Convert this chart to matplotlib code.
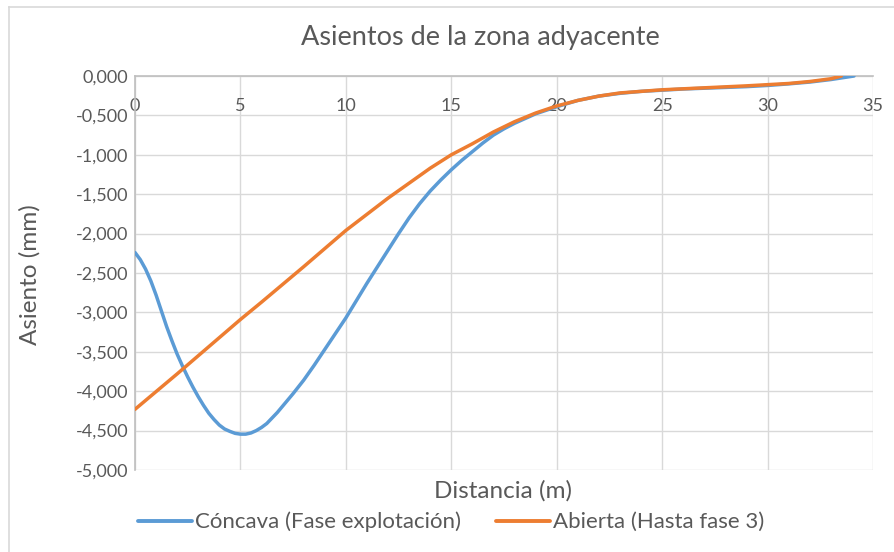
import matplotlib
matplotlib.use("Agg")
import matplotlib.pyplot as plt
from matplotlib.lines import Line2D
from matplotlib.ticker import FuncFormatter

# Settlement profiles next to the excavation (distance in m, settlement in mm)
dist_concava = [0, 0.25, 0.5, 0.75, 1, 1.25, 1.5, 1.75, 2, 2.25, 2.5, 2.75, 3, 3.25,
                3.5, 3.75, 4, 4.25, 4.5, 4.75, 5, 5.25, 5.5, 5.75, 6, 6.25, 6.5, 6.75,
                7, 7.5, 8, 8.5, 9, 9.5, 10, 10.5, 11, 11.5, 12, 12.5, 13, 13.5, 14,
                14.5, 15, 15.5, 16, 16.5, 17, 17.5, 18, 19, 20, 21, 22, 23, 24, 25,
                26, 27, 28, 29, 30, 31, 32, 33, 34.1]
asiento_concava = [-2.24, -2.33, -2.45, -2.60, -2.78, -2.98, -3.18, -3.36, -3.53,
                   -3.68, -3.82, -3.95, -4.07, -4.18, -4.28, -4.36, -4.43, -4.48,
                   -4.51, -4.535, -4.545, -4.545, -4.53, -4.50, -4.46, -4.41, -4.34,
                   -4.27, -4.19, -4.03, -3.86, -3.67, -3.47, -3.27, -3.07, -2.85,
                   -2.63, -2.42, -2.21, -2.00, -1.80, -1.62, -1.46, -1.32, -1.19,
                   -1.07, -0.96, -0.85, -0.75, -0.67, -0.60, -0.48, -0.39, -0.31,
                   -0.255, -0.22, -0.195, -0.18, -0.165, -0.155, -0.145, -0.135,
                   -0.12, -0.10, -0.077, -0.045, 0.0]

dist_abierta = [0, 2, 4, 5, 6, 8, 10, 12, 14, 15, 16, 17, 18, 19, 20, 21, 22, 23,
                25, 27, 29, 30, 31, 32, 33, 33.5]
asiento_abierta = [-4.23, -3.78, -3.32, -3.09, -2.87, -2.42, -1.96, -1.55, -1.17,
                   -1.00, -0.86, -0.71, -0.58, -0.47, -0.38, -0.31, -0.255, -0.215,
                   -0.175, -0.15, -0.125, -0.11, -0.095, -0.07, -0.035, 0.0]

serie_labels = ["Cóncava (Fase explotación)", "Abierta (Hasta fase 3)"]
x_ticks = [0, 5, 10, 15, 20, 25, 30, 35]
y_ticks = [0, -0.5, -1, -1.5, -2, -2.5, -3, -3.5, -4, -4.5, -5]

plt.rcParams["font.family"] = ["Lato", "DejaVu Sans"]
TEXT = "#595959"
GRID = "#D9D9D9"
AXIS = "#BFBFBF"

fig = plt.figure(figsize=(8.94, 5.52), dpi=100)
ax = fig.add_axes([135 / 894, 1 - 470 / 552, (873 - 135) / 894, (470 - 76) / 552])

ax.plot(dist_concava, asiento_concava, color="#5B9BD5", lw=2.5,
        solid_capstyle="round", solid_joinstyle="round", label=serie_labels[0], zorder=3)
ax.plot(dist_abierta, asiento_abierta, color="#ED7D31", lw=2.5,
        solid_capstyle="round", solid_joinstyle="round", label=serie_labels[1], zorder=4)

ax.set_xlim(0, 35)
ax.set_ylim(-5, 0)
ax.set_xticks(x_ticks)
ax.set_yticks(y_ticks)
ax.yaxis.set_major_formatter(
    FuncFormatter(lambda v, p: f"{v:.3f}".replace(".", ",").replace("-0,000", "0,000")))

ax.grid(True, color=GRID, lw=1.0, zorder=0)
ax.set_axisbelow(True)

for s in ("top", "right"):
    ax.spines[s].set_visible(False)
ax.spines["bottom"].set_position(("data", 0))
for s in ("bottom", "left"):
    ax.spines[s].set_color(AXIS)
    ax.spines[s].set_linewidth(1.2)

ax.tick_params(axis="x", length=0, pad=16, labelsize=13, labelcolor=TEXT)
ax.tick_params(axis="y", length=0, pad=5, labelsize=13, labelcolor=TEXT)

fig.text(480 / 894, 1 - 38 / 552, "Asientos de la zona adyacente", ha="center",
         va="center", fontsize=19.5, color=TEXT)

fig.text(30 / 894, 1 - 275 / 552, "Asiento (mm)", ha="center", va="center",
         rotation=90, fontsize=17.5, color=TEXT)
fig.text(503 / 894, 1 - 491 / 552, "Distancia (m)", ha="center", va="center",
         fontsize=17.5, color=TEXT)

leg = fig.legend(loc="center", bbox_to_anchor=(451 / 894, 1 - 522 / 552), ncol=2,
                 frameon=False, fontsize=16, handlelength=2.45, handletextpad=0.12,
                 columnspacing=1.55, labelcolor=TEXT)
for h in leg.legend_handles:
    h.set_linewidth(2.8)
    h.set_solid_capstyle("round")

# chart frame
fig.add_artist(Line2D([9 / 894, 1], [1 - 6.5 / 552, 1 - 6.5 / 552], color=GRID, lw=1.2))
fig.add_artist(Line2D([9 / 894, 9 / 894], [0, 1 - 6.5 / 552], color=GRID, lw=1.2))

fig.savefig("out.png", dpi=100)
